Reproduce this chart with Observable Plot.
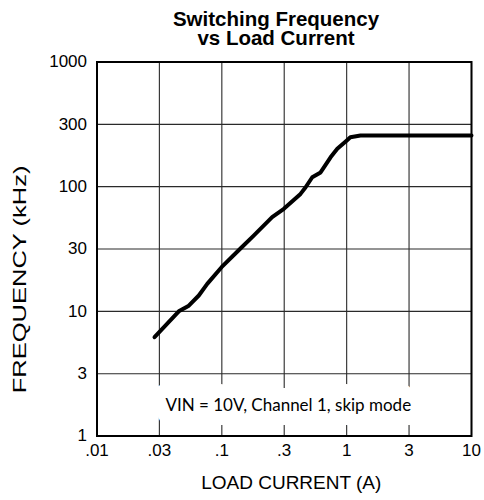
<!DOCTYPE html>
<html>
<head>
<meta charset="utf-8">
<script src="https://cdn.jsdelivr.net/npm/d3@7"></script>
<script src="https://cdn.jsdelivr.net/npm/@observablehq/plot@0.6"></script>
<style>
  html, body { margin: 0; padding: 0; background: #fff; }
  #wrap { position: relative; width: 484px; height: 500px; }
  #title {
    position: absolute; left: 276px; top: 9px; transform: translateX(-50%);
    font-family: "Liberation Sans", Arial, sans-serif; font-weight: bold;
    font-size: 20.5px; line-height: 19px; text-align: center; white-space: nowrap; color: #000;
  }
  #chart { position: absolute; left: 0; top: 0; }
</style>
</head>
<body>
<div id="wrap">
  <div id="chart"></div>
  <div id="title">Switching Frequency<br>vs Load Current</div>
</div>
<script>
// Data
const currentA = [0.0289, 0.0452, 0.0544, 0.0654, 0.0764, 0.0995, 0.141, 0.180, 0.253, 0.314, 0.427, 0.469, 0.530, 0.618, 0.743, 0.841, 0.998, 1.07, 1.29, 10];
const freqKHz  = [6.2,    10,     11.1,   13.4,   16.6,   22.6,   31.9,  40.5,  56.9,  66.4,  87.5,  98.9,  119,   130,   172,   201,   234,   249,  257,  257];

// Grid/tick values (half-decade grid) and their labels
const xTickValues = [0.01, 0.0316, 0.1, 0.316, 1, 3.16, 10];
const xTickLabels = [".01", ".03", ".1", ".3", "1", "3", "10"];
const yTickValues = [1, 3.16, 10, 31.6, 100, 316, 1000];
const yTickLabels = ["1", "3", "10", "30", "100", "300", "1000"];

const xLabel = "LOAD CURRENT (A)";
const yLabel = "FREQUENCY (kHz)";
const noteText = "VIN = 10V, Channel 1, skip mode";

const data = currentA.map((c, i) => ({current: c, freq: freqKHz[i]}));
const font = "'Liberation Sans', Arial, sans-serif";

const chart = Plot.plot({
  width: 484,
  height: 500,
  marginTop: 61.5,
  marginBottom: 64.5,
  marginLeft: 96.5,
  marginRight: 13,
  style: {fontFamily: font, fontSize: "17px", color: "#000", background: "#fff"},
  x: {type: "log", domain: [0.01, 10], axis: null},
  y: {type: "log", domain: [1, 1000], axis: null},
  marks: [
    Plot.ruleX(xTickValues, {stroke: "#2a2a2a", strokeWidth: 1.1}),
    Plot.ruleY(yTickValues, {stroke: "#2a2a2a", strokeWidth: 1.1}),
    Plot.text([noteText], {
      frameAnchor: "bottom", dx: 4, dy: -25,
      fontFamily: "Lato, 'Open Sans', sans-serif", fontSize: 17,
      fill: "#000", stroke: "#fff", strokeWidth: 28, strokeLinejoin: "round",
      ariaLabel: "note"
    }),
    Plot.line(data, {x: "current", y: "freq", stroke: "#000", strokeWidth: 4, strokeLinejoin: "round", strokeLinecap: "round"}),
    Plot.frame({stroke: "#000", strokeWidth: 2}),
    // x tick labels through the x scale
    Plot.text(xTickValues, {
      x: d => d, text: (d, i) => xTickLabels[i],
      frameAnchor: "bottom", dy: 19.5, fontSize: 17, fill: "#000"
    }),
    // y tick labels through the y scale
    Plot.text(yTickValues, {
      y: d => d, text: (d, i) => yTickLabels[i],
      frameAnchor: "left", textAnchor: "end", dx: -10, fontSize: 17, fill: "#000"
    }),
    Plot.text([xLabel], {frameAnchor: "bottom", dx: 7, dy: 52.5, fontSize: 19, fill: "#000", ariaLabel: "xlabel"})
  ]
});

document.getElementById("chart").appendChild(chart);

// Rotated y-axis label (stretched along its length as in the reference)
d3.select(chart).append("text")
  .attr("transform", "translate(20,279.5) rotate(-90) scale(1.38,1)")
  .attr("text-anchor", "middle")
  .attr("dy", "0.35em")
  .attr("font-family", font)
  .attr("font-size", 18.5)
  .attr("fill", "#000")
  .text(yLabel);

const xl = chart.querySelector('[aria-label="xlabel"] text');
if (xl) { xl.setAttribute("textLength", 182); xl.setAttribute("lengthAdjust", "spacingAndGlyphs"); }
const nt = chart.querySelector('[aria-label="note"] text');
if (nt) { nt.setAttribute("textLength", 251); nt.setAttribute("lengthAdjust", "spacingAndGlyphs"); }
</script>
</body>
</html>
